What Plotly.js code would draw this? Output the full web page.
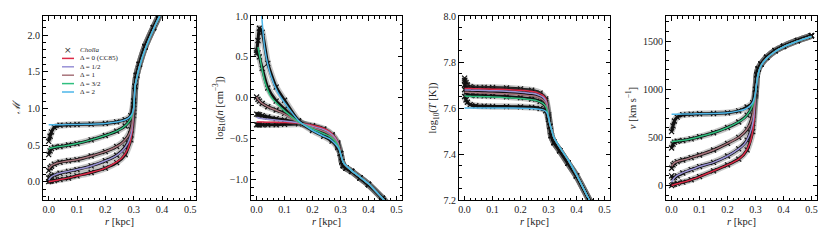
<!DOCTYPE html>
<html><head><meta charset="utf-8">
<script src="https://cdn.plot.ly/plotly-3.0.1.min.js"></script>
<style>html,body{margin:0;padding:0;background:#fff}#chart{width:830px;height:242px}</style>
</head><body><div id="chart"></div>
<script>
// ---- radii (kpc) ----
const rModel = [0, 0.005, 0.01, 0.02, 0.03, 0.05, 0.075, 0.1, 0.15, 0.2, 0.24, 0.26, 0.28, 0.29, 0.295, 0.3];
const rOuter = [0.305, 0.31, 0.32, 0.34, 0.37, 0.4, 0.45, 0.5];
const rCholla = [0, 0.005, 0.01, 0.02, 0.04, 0.07, 0.1, 0.15, 0.2, 0.24, 0.27, 0.29, 0.3];

// ---- model labels / colours ----
const modelLabels = ['Δ = 0 (CC85)', 'Δ = 1/2', 'Δ = 1', 'Δ = 3/2', 'Δ = 2'];
const modelColors = ['#dc2a47', '#9891d6', '#a8737b', '#2fbf7f', '#4db6e8'];
const chollaLabel = '<i>Cholla</i>';

// ---- Mach number ----
const machD0  = [0.0, 0.003, 0.007, 0.014, 0.02, 0.035, 0.055, 0.08, 0.125, 0.185, 0.27, 0.33, 0.45, 0.58, 0.7, 1.0];
const machD05 = [0.02, 0.05, 0.07, 0.09, 0.105, 0.125, 0.145, 0.165, 0.215, 0.285, 0.36, 0.42, 0.53, 0.64, 0.75, 1.0];
const machD1  = [0.17, 0.2, 0.22, 0.24, 0.255, 0.27, 0.285, 0.30, 0.35, 0.41, 0.48, 0.53, 0.62, 0.71, 0.8, 1.0];
const machD15 = [0.445, 0.455, 0.46, 0.47, 0.475, 0.485, 0.5, 0.52, 0.57, 0.63, 0.69, 0.73, 0.80, 0.86, 0.91, 1.0];
const machD2  = [0.775, 0.775, 0.775, 0.776, 0.777, 0.778, 0.779, 0.78, 0.785, 0.795, 0.815, 0.83, 0.865, 0.9, 0.93, 1.0];
const machOut = [1.3, 1.4, 1.56, 1.8, 2.08, 2.32, 2.65, 2.95];
const choMachD0  = [0.0, 0.005, 0.01, 0.015, 0.03, 0.05, 0.08, 0.125, 0.185, 0.26, 0.37, 0.57, 0.9];
const choMachD05 = [0.05, 0.06, 0.08, 0.09, 0.115, 0.14, 0.165, 0.215, 0.285, 0.36, 0.47, 0.64, 0.95];
const choMachD1  = [0.15, 0.19, 0.21, 0.24, 0.265, 0.285, 0.30, 0.35, 0.41, 0.48, 0.57, 0.71, 1.0];
const choMachD15 = [0.37, 0.42, 0.45, 0.47, 0.48, 0.5, 0.52, 0.57, 0.63, 0.69, 0.76, 0.86, 1.05];
const choMachD2  = [0.55, 0.62, 0.68, 0.74, 0.77, 0.775, 0.78, 0.785, 0.795, 0.815, 0.845, 0.9, 1.1];
const choMachOut = [1.3, 1.45, 1.6, 1.84, 2.1, 2.34, 2.67, 2.97];

// ---- log10 density ----
const densD0  = [-0.295, -0.295, -0.296, -0.297, -0.298, -0.299, -0.301, -0.303, -0.31, -0.335, -0.375, -0.41, -0.48, -0.54, -0.59, -0.68];
const densD05 = [-0.24, -0.245, -0.25, -0.255, -0.26, -0.265, -0.275, -0.285, -0.307, -0.35, -0.39, -0.425, -0.49, -0.55, -0.6, -0.68];
const densD1  = [0.01, -0.02, -0.04, -0.07, -0.09, -0.125, -0.16, -0.2, -0.30, -0.365, -0.41, -0.445, -0.51, -0.565, -0.605, -0.68];
const densD15 = [null, 0.62, 0.53, 0.34, 0.19, 0.02, -0.08, -0.16, -0.295, -0.38, -0.44, -0.47, -0.53, -0.58, -0.615, -0.68];
const densD2  = [null, null, 1.6, 0.93, 0.58, 0.28, 0.07, -0.06, -0.28, -0.40, -0.47, -0.50, -0.56, -0.60, -0.63, -0.68];
const densOut = [-0.74, -0.79, -0.83, -0.89, -0.97, -1.05, -1.23, -1.42];
const choDensD0  = [-0.33, -0.33, -0.33, -0.33, -0.33, -0.33, -0.325, -0.32, -0.34, -0.38, -0.45, -0.55, -0.68];
const choDensD05 = [-0.2, -0.205, -0.21, -0.22, -0.235, -0.255, -0.27, -0.305, -0.35, -0.39, -0.46, -0.56, -0.68];
const choDensD1  = [0.01, -0.02, -0.04, -0.07, -0.11, -0.15, -0.19, -0.29, -0.365, -0.41, -0.48, -0.57, -0.68];
const choDensD15 = [0.58, 0.55, 0.5, 0.36, 0.12, -0.04, -0.14, -0.29, -0.38, -0.44, -0.51, -0.59, -0.68];
const choDensD2  = [0.55, 0.7, 0.85, 0.8, 0.42, 0.13, -0.03, -0.28, -0.40, -0.47, -0.53, -0.61, -0.68];
const choDensOut = [-0.78, -0.83, -0.86, -0.9, -0.98, -1.06, -1.23, -1.42];

// ---- log10 temperature ----
const tempD0  = [7.685, 7.685, 7.685, 7.685, 7.684, 7.684, 7.683, 7.682, 7.68, 7.677, 7.672, 7.667, 7.655, 7.64, 7.62, 7.56];
const tempD05 = [7.678, 7.678, 7.678, 7.678, 7.677, 7.677, 7.676, 7.675, 7.673, 7.669, 7.664, 7.659, 7.647, 7.632, 7.613, 7.56];
const tempD1  = [7.668, 7.668, 7.668, 7.667, 7.667, 7.666, 7.665, 7.664, 7.662, 7.658, 7.653, 7.648, 7.636, 7.622, 7.604, 7.56];
const tempD15 = [7.652, 7.652, 7.651, 7.651, 7.65, 7.65, 7.649, 7.648, 7.645, 7.641, 7.636, 7.631, 7.62, 7.607, 7.592, 7.56];
const tempD2  = [7.6, 7.6, 7.6, 7.6, 7.6, 7.6, 7.6, 7.6, 7.6, 7.599, 7.598, 7.596, 7.592, 7.586, 7.578, 7.56];
const tempOut = [7.53, 7.51, 7.47, 7.43, 7.375, 7.31, 7.19, 7.07];
const choTempD0  = [7.73, 7.71, 7.7, 7.693, 7.69, 7.69, 7.689, 7.687, 7.683, 7.677, 7.665, 7.64, 7.57];
const choTempD05 = [7.72, 7.7, 7.69, 7.685, 7.682, 7.681, 7.68, 7.678, 7.674, 7.668, 7.656, 7.633, 7.57];
const choTempD1  = [7.7, 7.685, 7.677, 7.672, 7.67, 7.669, 7.668, 7.666, 7.662, 7.656, 7.645, 7.622, 7.565];
const choTempD15 = [7.68, 7.668, 7.66, 7.656, 7.654, 7.653, 7.652, 7.649, 7.645, 7.639, 7.628, 7.608, 7.56];
const choTempD2  = [7.65, 7.635, 7.625, 7.615, 7.61, 7.608, 7.607, 7.606, 7.605, 7.603, 7.598, 7.588, 7.55];
const choTempOut = [7.52, 7.48, 7.45, 7.415, 7.36, 7.305, 7.19, 7.07];

// ---- velocity (km/s) ----
const velD0  = [0, 5, 10, 18, 26, 41, 65, 93, 152, 214, 275, 330, 438, 559, 679, 960];
const velD05 = [35, 60, 80, 105, 120, 145, 170, 197, 241, 307, 380, 430, 541, 645, 750, 960];
const velD1  = [200, 220, 235, 250, 258, 272, 295, 317, 369, 438, 500, 550, 638, 731, 820, 960];
const velD15 = [455, 458, 460, 463, 465, 472, 488, 507, 548, 603, 660, 700, 772, 834, 880, 960];
const velD2  = [741, 741, 741, 741, 741, 742, 743, 745, 748, 755, 775, 790, 825, 860, 900, 960];
const velOut = [1080, 1160, 1245, 1320, 1390, 1438, 1498, 1548];
const choVelD0  = [0, 10, 15, 22, 35, 60, 93, 152, 214, 275, 370, 560, 930];
const choVelD05 = [100, 80, 85, 100, 130, 165, 197, 241, 307, 380, 472, 645, 940];
const choVelD1  = [180, 215, 230, 248, 265, 290, 317, 369, 438, 500, 583, 731, 950];
const choVelD15 = [390, 430, 450, 460, 468, 485, 507, 548, 603, 660, 731, 834, 960];
const choVelD2  = [560, 620, 670, 710, 735, 741, 745, 748, 755, 775, 815, 860, 1000];
const choVelOut = [1150, 1210, 1260, 1330, 1400, 1445, 1505, 1555];

const panels = [
  {models:[machD0,machD05,machD1,machD15,machD2], out:machOut,
   cho:[choMachD0,choMachD05,choMachD1,choMachD15,choMachD2], choOut:choMachOut},
  {models:[densD0,densD05,densD1,densD15,densD2], out:densOut,
   cho:[choDensD0,choDensD05,choDensD1,choDensD15,choDensD2], choOut:choDensOut},
  {models:[tempD0,tempD05,tempD1,tempD15,tempD2], out:tempOut,
   cho:[choTempD0,choTempD05,choTempD1,choTempD15,choTempD2], choOut:choTempOut},
  {models:[velD0,velD05,velD1,velD15,velD2], out:velOut,
   cho:[choVelD0,choVelD05,choVelD1,choVelD15,choVelD2], choOut:choVelOut}
];

const F = 'Liberation Serif, DejaVu Serif, serif';
const W = 830, H = 242, MT = 16, MB = 42;
const traces = [];
panels.forEach((p, k) => {
  const xa = k === 0 ? 'x' : 'x' + (k + 1);
  const ya = k === 0 ? 'y' : 'y' + (k + 1);
  p.cho.forEach((c) => {
    traces.push({x: rCholla.concat(rOuter), y: c.concat(p.choOut), xaxis: xa, yaxis: ya,
      type: 'scatter', mode: 'lines', showlegend: false, hoverinfo: 'skip',
      line: {color: 'rgba(90,90,90,0.35)', width: 6.5, shape: 'spline', smoothing: 0.6}});
    traces.push({x: rCholla.concat(rOuter), y: c.concat(p.choOut), xaxis: xa, yaxis: ya,
      type: 'scatter', mode: 'lines+markers', showlegend: false,
      line: {color: '#111', width: 3, shape: 'spline', smoothing: 0.6},
      marker: {symbol: 'x-thin-open', size: 5, line: {color: '#333', width: 1.2}}});
  });
  p.models.forEach((m, i) => {
    traces.push({x: rModel.concat(rOuter), y: m.concat(p.out), xaxis: xa, yaxis: ya,
      type: 'scatter', mode: 'lines', showlegend: false, connectgaps: false,
      line: {color: modelColors[i], width: 1.5, shape: 'spline', smoothing: 0.6}});
  });
});

const dom = [[43, 196], [251, 402], [459, 610], [666, 817]];
const yRanges = [[-0.25, 2.26], [-1.25, 1.0], [7.2, 8.0], [-150, 1760]];
const yDticks = [0.5, 0.5, 0.2, 500];
const yMinor = [0.1, 0.1, 0.05, 100];
const yFormats = ['.1f', '.1f', '.1f', 'd'];
const yTitles = ['<i>ℳ</i>', 'log<sub>10</sub>(<i>n</i> [cm<sup>−3</sup>])', 'log<sub>10</sub>(<i>T</i> [K])', '<i>v</i> [km s<sup>−1</sup>]'];

const layout = {width: W, height: H, margin: {l: 0, r: 0, t: MT, b: MB},
  paper_bgcolor: '#fff', plot_bgcolor: '#fff', showlegend: false,
  font: {family: F, color: '#222', size: 10}, annotations: [], shapes: []};

const common = {ticks: 'inside', ticklen: 4.5, tickwidth: 1, tickcolor: '#000', showline: true,
  linecolor: '#000', linewidth: 1, mirror: 'allticks', showgrid: false, zeroline: false,
  tickfont: {family: F, size: 10, color: '#222'}};

dom.forEach((d, k) => {
  const sx = k === 0 ? '' : String(k + 1);
  layout['xaxis' + sx] = Object.assign({}, common, {domain: [d[0] / W, d[1] / W], anchor: 'y' + sx,
    range: [-0.02, 0.52], dtick: 0.1, tick0: 0, tickformat: '.1f',
    minor: {ticks: 'inside', ticklen: 2.5, dtick: 0.02, tick0: 0, tickcolor: '#000', showgrid: false},
    title: {text: '<i>r</i> [kpc]', font: {family: F, size: 10.5, color: '#222'}, standoff: 3}});
  layout['yaxis' + sx] = Object.assign({}, common, {domain: [0, 1], anchor: 'x' + sx,
    range: yRanges[k], dtick: yDticks[k], tick0: 0, tickformat: yFormats[k],
    minor: {ticks: 'inside', ticklen: 2.5, dtick: yMinor[k], tick0: 0, tickcolor: '#000', showgrid: false},
    title: {text: yTitles[k], font: {family: F, size: 10.5, color: '#222'}, standoff: 4}});
});

// ---- hand-drawn legend in first panel ----
const px2x = (px) => px / W;
const px2y = (py) => (H - MB - py) / (H - MT - MB);
const legendRows = [chollaLabel].concat(modelLabels);
legendRows.forEach((lab, i) => {
  const py = 50 + i * 8.4;
  if (i === 0) {
    layout.annotations.push({xref: 'paper', yref: 'paper', x: px2x(68), y: px2y(py), text: '×',
      showarrow: false, xanchor: 'center', yanchor: 'middle',
      font: {family: 'DejaVu Sans', size: 9, color: '#333'}});
  } else {
    layout.shapes.push({type: 'line', xref: 'paper', yref: 'paper', x0: px2x(62), x1: px2x(74),
      y0: px2y(py), y1: px2y(py), line: {color: modelColors[i - 1], width: 1.5}});
  }
  layout.annotations.push({xref: 'paper', yref: 'paper', x: px2x(78), y: px2y(py), text: lab,
    showarrow: false, xanchor: 'left', yanchor: 'middle', font: {family: F, size: 7, color: '#222'}});
});

Plotly.newPlot('chart', traces, layout, {displayModeBar: false, staticPlot: true});
</script></body></html>
